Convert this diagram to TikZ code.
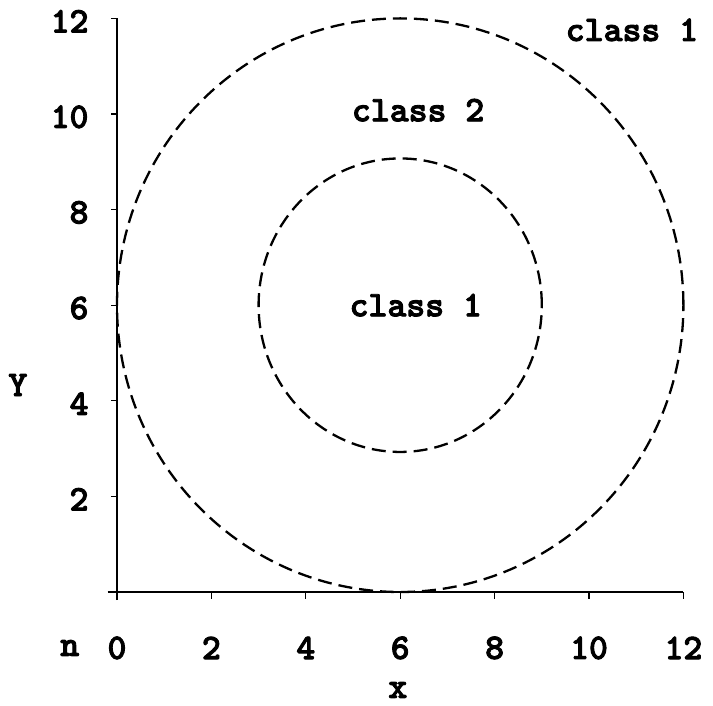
\documentclass[tikz,border=0pt]{standalone}
\usepackage{fontspec}
\newfontfamily\tfont{lmmonolt10-bold.otf}[FakeBold=2.5]
\begin{document}
\begin{tikzpicture}[x=47.2pt,y=47.8pt,
  lbl/.style={font=\tfont\fontsize{36}{40}\selectfont, inner sep=0pt},
  axis/.style={line width=1.2pt},
  bound/.style={line width=2.3pt, dash pattern=on 14pt off 7pt}]
\useasboundingbox (-117pt,-113pt) rectangle (596pt,592pt);
% axes
\coordinate (o) at (0,0);
\coordinate (ytop) at (0,12);
\coordinate (xl) at (-0.2,0);
\coordinate (xr) at (12,0);
\coordinate (yb) at (0,-0.17);
\draw[axis] (yb) -- (ytop);
\draw[axis] (xl) -- (xr);
\foreach \v in {2,4,...,12} {
  \draw[axis] (0,\v) -- ++(-6pt,0);
  \node[lbl, anchor=east] at (-0.6,\v-0.06) {\v};
}
\foreach \v in {2,4,...,12} {
  \draw[axis] (\v,0) -- ++(0,-7pt);
}
\foreach \v in {0,2,...,12} {
  \node[lbl] at (\v,-1.17) {\v};
}
\node[lbl] (n) at (-1.0,-1.17) {n};
\node[lbl] (xlab) at (5.95,-2.05) {x};
\node[lbl] (ylab) at (-2.1,4.33) {Y};
% circles
\coordinate (c) at (6,6);
\draw[bound] (c) ellipse [x radius=6, y radius=6];
\draw[bound] (c) ellipse [x radius=3, y radius=3.07];
% class labels
\node[lbl] (c1out) at (10.91,11.76) {class 1};
\node[lbl] (c2) at (6.38,10.08) {class 2};
\node[lbl] (c1in) at (6.33,6.0) {class 1};
\end{tikzpicture}
\end{document}
